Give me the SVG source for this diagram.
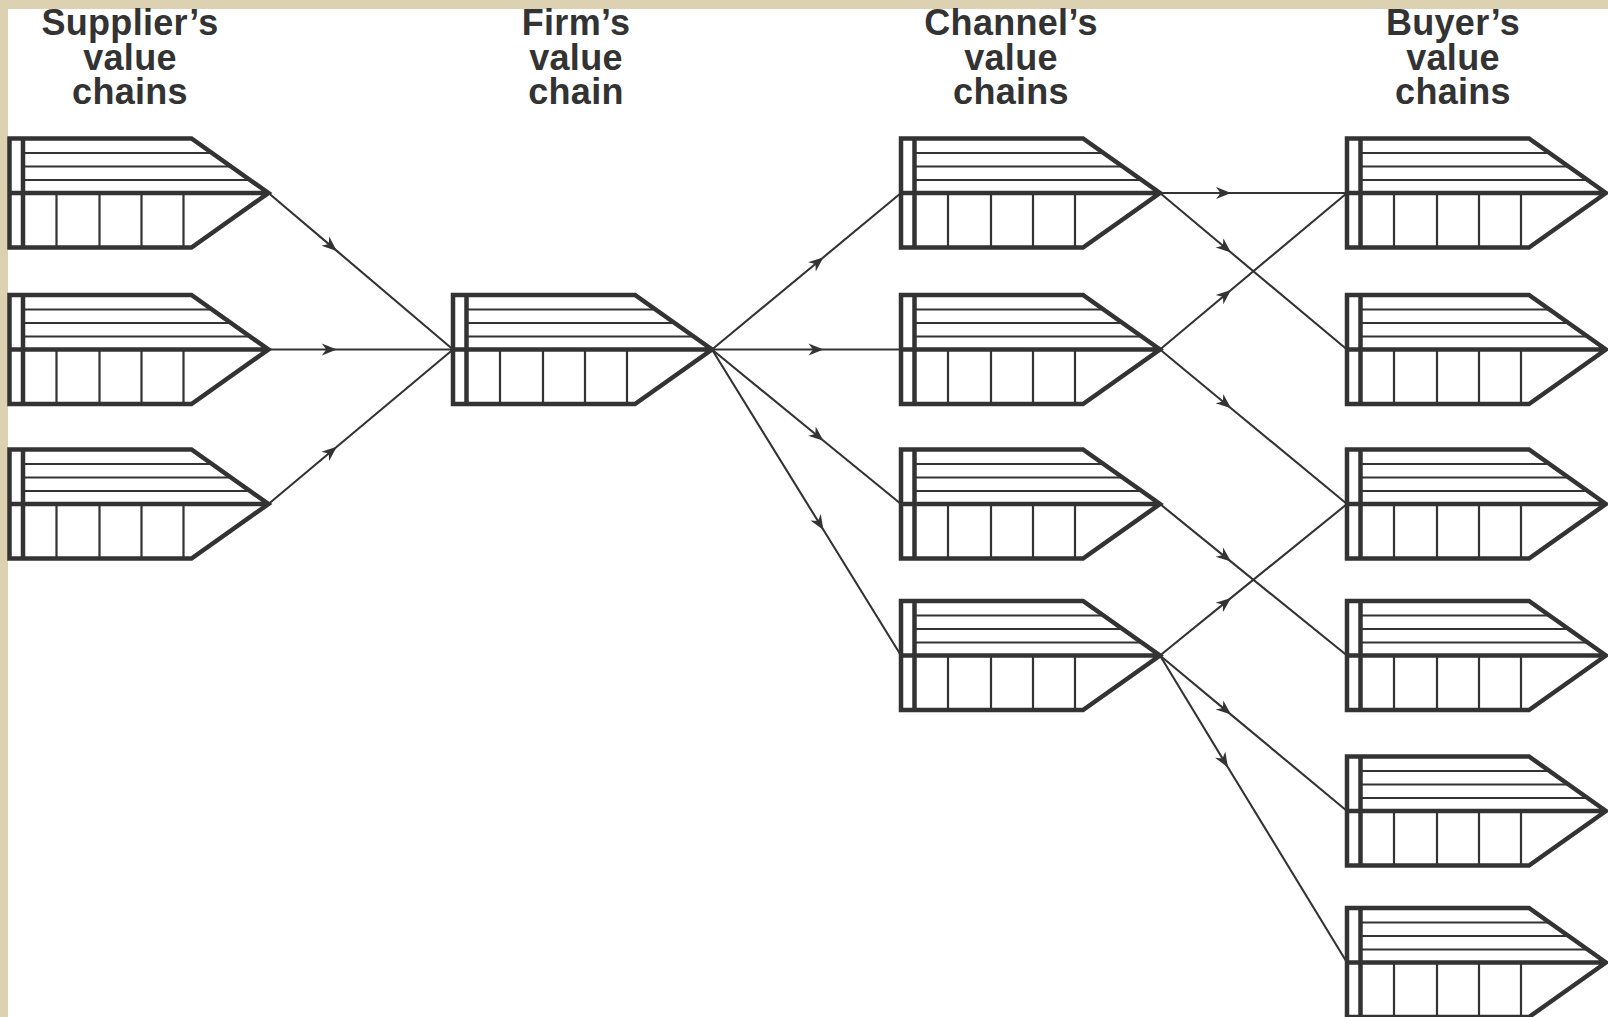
<svg xmlns="http://www.w3.org/2000/svg" xmlns:xlink="http://www.w3.org/1999/xlink" width="1608" height="1017" viewBox="0 0 1608 1017">
<style>
.bg{fill:#ffffff}
.frame{fill:#dcd1b1}
.ttl{font-family:"Liberation Sans",Arial,sans-serif;font-weight:bold;font-size:36px;fill:#333;text-anchor:middle;letter-spacing:0.3px}
.thick{fill:none;stroke:#333;stroke-width:4.5;stroke-linejoin:miter}
.thin{fill:none;stroke:#333;stroke-width:2.2}
.conn{fill:none;stroke:#333;stroke-width:2.1;marker-mid:url(#arr)}
</style>
<defs>
<marker id="arr" markerUnits="userSpaceOnUse" orient="auto" refX="0" refY="0" markerWidth="20" markerHeight="20" overflow="visible">
<path d="M0,0 L-15,-6 L-10.5,0 L-15,6 Z" fill="#333"/>
</marker>
<g id="vc">
<path class="thin" d="M13.5,14.5 H202.5 M13.5,28 H221.6 M13.5,41.5 H240.6 M47,54.5 V109 M90,54.5 V109 M132,54.5 V109 M174,54.5 V109"/>
<path class="thick" d="M0,0 H182 L259,54.5 L182,109 H0 Z M0,54.5 H259 M13.5,0 V109"/>
</g>
</defs>
<rect class="bg" x="0" y="0" width="1608" height="1017"/>
<rect class="frame" x="0" y="0" width="1608" height="9"/>
<rect class="frame" x="0" y="0" width="8" height="1017"/>

<g id="titles">
<text class="ttl" x="130" y="35">Supplier’s</text>
<text class="ttl" x="130" y="69.5">value</text>
<text class="ttl" x="130" y="104">chains</text>
<text class="ttl" x="576" y="35">Firm’s</text>
<text class="ttl" x="576" y="69.5">value</text>
<text class="ttl" x="576" y="104">chain</text>
<text class="ttl" x="1011" y="35">Channel’s</text>
<text class="ttl" x="1011" y="69.5">value</text>
<text class="ttl" x="1011" y="104">chains</text>
<text class="ttl" x="1453" y="35">Buyer’s</text>
<text class="ttl" x="1453" y="69.5">value</text>
<text class="ttl" x="1453" y="104">chains</text>
</g>

<g id="connectors">
<polyline class="conn" points="268.5,193 336.8,250.9 453,349.5"/>
<polyline class="conn" points="268.5,349.5 336.8,349.5 453,349.5"/>
<polyline class="conn" points="268.5,504 336.8,446.8 453,349.5"/>
<polyline class="conn" points="712,349.5 823.5,257.2 901,193"/>
<polyline class="conn" points="712,349.5 823.5,349.5 901,349.5"/>
<polyline class="conn" points="712,349.5 823.5,440.7 901,504"/>
<polyline class="conn" points="712,349.5 823.5,530 901,655.5"/>
<polyline class="conn" points="1160,193 1231,193 1347,193"/>
<polyline class="conn" points="1160,193 1231,252.5 1347,349.5"/>
<polyline class="conn" points="1160,349.5 1231,290 1347,193"/>
<polyline class="conn" points="1160,349.5 1231,408.2 1347,504"/>
<polyline class="conn" points="1160,504 1231,561.6 1347,655.5"/>
<polyline class="conn" points="1160,655.5 1231,597.9 1347,504"/>
<polyline class="conn" points="1160,655.5 1231,714.6 1347,811"/>
<polyline class="conn" points="1160,655.5 1228,767.5 1347,962.5"/>
</g>

<g id="supplier1" transform="translate(9.5,138.5)"><use xlink:href="#vc" href="#vc"/></g>
<g id="supplier2" transform="translate(9.5,295)"><use xlink:href="#vc" href="#vc"/></g>
<g id="supplier3" transform="translate(9.5,449.5)"><use xlink:href="#vc" href="#vc"/></g>
<g id="firm" transform="translate(453,295)"><use xlink:href="#vc" href="#vc"/></g>
<g id="channel1" transform="translate(901,138.5)"><use xlink:href="#vc" href="#vc"/></g>
<g id="channel2" transform="translate(901,295)"><use xlink:href="#vc" href="#vc"/></g>
<g id="channel3" transform="translate(901,449.5)"><use xlink:href="#vc" href="#vc"/></g>
<g id="channel4" transform="translate(901,601)"><use xlink:href="#vc" href="#vc"/></g>
<g id="buyer1" transform="translate(1347,138.5)"><use xlink:href="#vc" href="#vc"/></g>
<g id="buyer2" transform="translate(1347,295)"><use xlink:href="#vc" href="#vc"/></g>
<g id="buyer3" transform="translate(1347,449.5)"><use xlink:href="#vc" href="#vc"/></g>
<g id="buyer4" transform="translate(1347,601)"><use xlink:href="#vc" href="#vc"/></g>
<g id="buyer5" transform="translate(1347,756.5)"><use xlink:href="#vc" href="#vc"/></g>
<g id="buyer6" transform="translate(1347,908)"><use xlink:href="#vc" href="#vc"/></g>
</svg>
